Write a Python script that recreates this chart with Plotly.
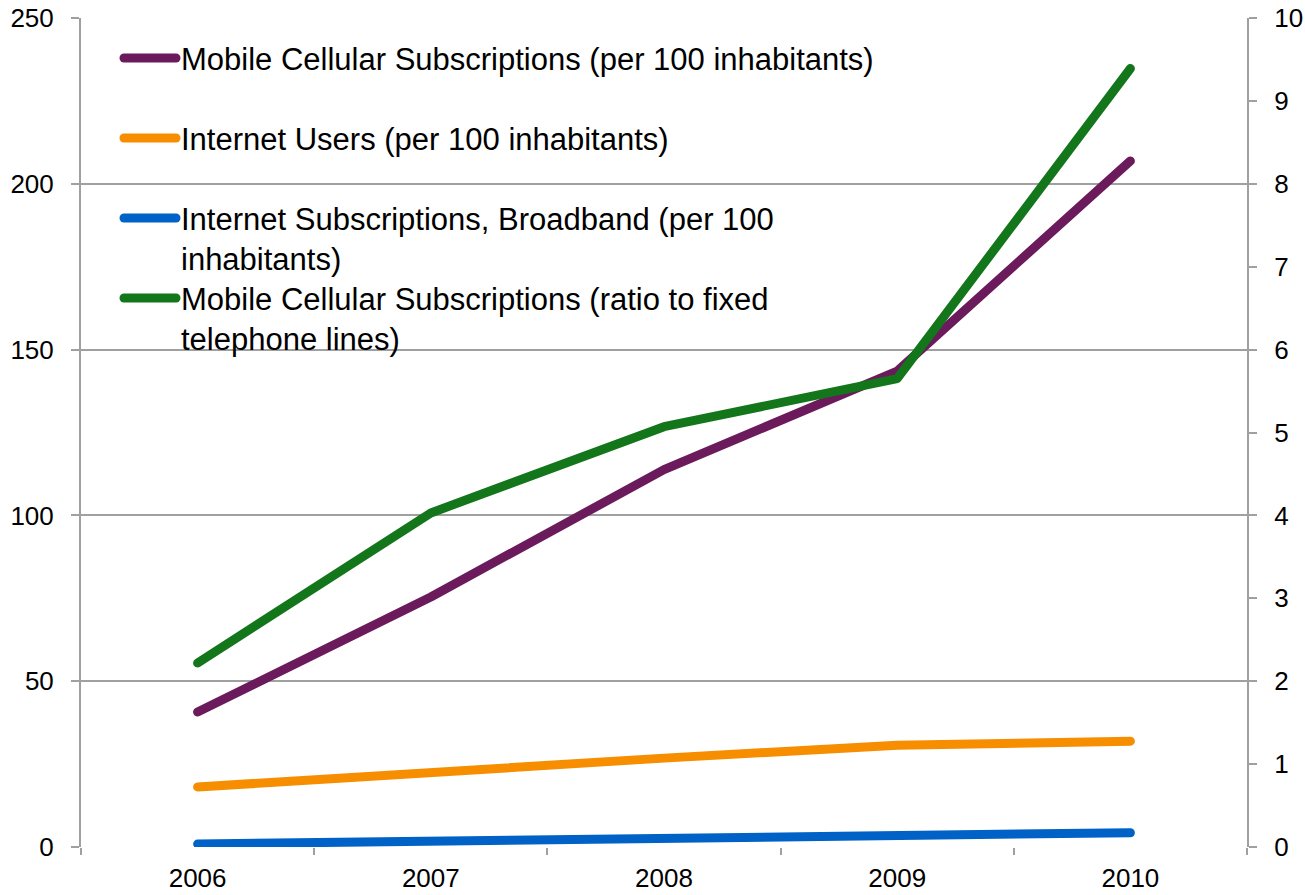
import plotly.graph_objects as go

# Indicator values by year
years = ["2006", "2007", "2008", "2009", "2010"]
mobile_per_100 = [40.7, 75.4, 113.8, 143.5, 206.9]
internet_users_per_100 = [18.1, 22.6, 26.8, 30.7, 31.9]
broadband_per_100 = [0.9, 1.7, 2.7, 3.9, 4.3]
mobile_to_fixed_ratio = [2.22, 4.03, 5.07, 5.65, 9.39]

names = [
    "Mobile Cellular Subscriptions (per 100 inhabitants)",
    "Internet Users (per 100 inhabitants)",
    "Internet Subscriptions, Broadband (per 100<br>inhabitants)",
    "Mobile Cellular Subscriptions (ratio to fixed<br>telephone lines)",
]
colors = ["#6B1A5B", "#F68E00", "#0062C6", "#13761A"]

W, H = 1305, 895
M_L, M_R, M_T, M_B = 81, 58, 18, 48
PLOT_W = W - M_L - M_R
PLOT_H = H - M_T - M_B

LEG_FONT = 31
LEG_LEFT_PX = 119          # left edge of each legend box
LEG_SYMBOL_PX = [58, 138, 218, 298]   # vertical position of each legend swatch
SYMBOL_OFFSET = 5 + (LEG_FONT * 1.3 + 3) / 2  # swatch centre below legend top

LINE_W = 9
fig = go.Figure()
series = [
    (mobile_per_100, "y"),
    (internet_users_per_100, "y"),
    (broadband_per_100, "y"),
    (mobile_to_fixed_ratio, "y2"),
]
legend_ids = ["legend", "legend2", "legend3", "legend4"]
for (vals, yax), name, col, lid in zip(series, names, colors, legend_ids):
    fig.add_trace(go.Scatter(
        x=years, y=vals, yaxis=yax, mode="lines",
        name=name, legend=lid,
        line=dict(color=col, width=LINE_W),
    ))

grid = "#A0A0A0"
font_family = "Liberation Sans, Arial, sans-serif"
tick_font = dict(family=font_family, size=26, color="#000000")

legend_layouts = {}
for lid, sy in zip(legend_ids, LEG_SYMBOL_PX):
    top_px = sy - SYMBOL_OFFSET
    legend_layouts[lid] = dict(
        x=(LEG_LEFT_PX - M_L) / PLOT_W,
        y=1 - (top_px - M_T) / PLOT_H,
        xanchor="left", yanchor="top",
        bgcolor="rgba(0,0,0,0)", borderwidth=0,
        font=dict(size=LEG_FONT, family=font_family, color="#000000"),
        itemwidth=52, valign="top",
    )

fig.update_layout(
    width=W, height=H,
    margin=dict(l=M_L, r=M_R, t=M_T, b=M_B, autoexpand=False),
    paper_bgcolor="white", plot_bgcolor="white",
    font=dict(family=font_family, color="#000000"),
    showlegend=True,
    xaxis=dict(
        type="category", range=[-0.5, 4.5],
        showgrid=False, zeroline=False, showline=False,
        ticks="outside", tickson="boundaries", ticklen=7, tickwidth=2, tickcolor=grid,
        tickfont=tick_font, ticklabelstandoff=13, automargin=False,
    ),
    yaxis=dict(
        range=[0, 250], dtick=50, tick0=0,
        showgrid=True, gridcolor=grid, gridwidth=2,
        zeroline=False,
        showline=True, linecolor=grid, linewidth=2,
        ticks="outside", ticklen=8, tickwidth=2, tickcolor=grid,
        tickfont=tick_font, ticklabelstandoff=12, automargin=False,
    ),
    yaxis2=dict(
        range=[0, 10], dtick=1, tick0=0,
        overlaying="y", side="right",
        showgrid=False, zeroline=False,
        showline=True, linecolor=grid, linewidth=2,
        ticks="outside", ticklen=8, tickwidth=2, tickcolor=grid,
        tickfont=tick_font, ticklabelstandoff=12, automargin=False,
    ),
    **legend_layouts,
)

# rounded line caps and joins
round_caps = (
    "var s=document.createElement('style');"
    "s.textContent='.js-line{stroke-linecap:round !important;stroke-linejoin:round !important;}';"
    "document.head.appendChild(s);"
)
fig.write_html("out.html", post_script=round_caps)
